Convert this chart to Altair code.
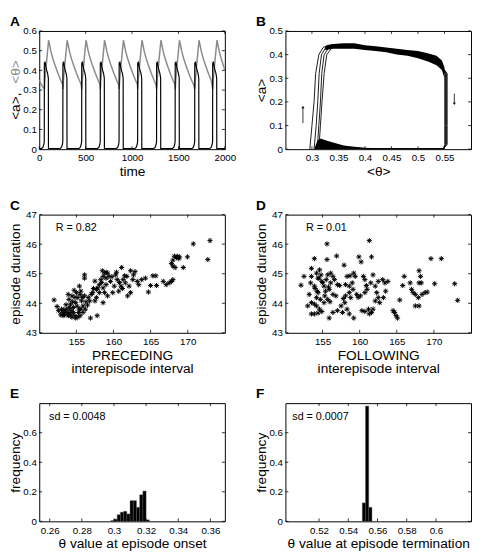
import altair as alt
import pandas as pd

FONT = "Liberation Sans"
W, H = 190, 121
TK = 3
ASTER = "M-1,0L1,0M0,-1L0,1M-0.7,-0.7L0.7,0.7M-0.7,0.7L0.7,-0.7"

# ---------------- Panel A data ----------------
A_xticks = [0, 500, 1000, 1500, 2000]
A_yticks = [0, 0.1, 0.2, 0.3, 0.4, 0.5, 0.6]
a_onsets = [55, 255, 458, 658, 861, 1061, 1265, 1465, 1676, 1869]
a_th_rise_dt = [0, 5, 15, 25, 35, 46]
a_th_rise_v = [0.305, 0.345, 0.40, 0.45, 0.50, 0.553]
a_th_decay_dt = [10, 25, 45, 70, 100, 130, 150]
a_th_decay_v = [0.53, 0.495, 0.46, 0.425, 0.385, 0.35, 0.33]
a_th_start_t = [0, 20, 40]
a_th_start_v = [0.35, 0.33, 0.315]
a_th_end_t, a_th_end_v = 2000, 0.40
a_act_dt = [-30, -15, -5, -1, 0, 3, 8, 15, 25, 35, 43, 44, 50]
a_act_v = [0.004, 0.01, 0.025, 0.04, 0.44, 0.43, 0.445, 0.42, 0.40, 0.385, 0.36, 0.0, 0.003]

# ---------------- Panel B data ----------------
B_xticks = [0.3, 0.35, 0.4, 0.45, 0.5, 0.55]
B_yticks = [0, 0.1, 0.2, 0.3, 0.4, 0.5]
b_up_th = [
    [0.296, 0.300, 0.304, 0.307, 0.313, 0.321, 0.330],
    [0.304, 0.308, 0.311, 0.3136, 0.318, 0.326, 0.335],
    [0.310, 0.313, 0.316, 0.3185, 0.323, 0.332, 0.340],
    [0.313, 0.316, 0.319, 0.323, 0.328, 0.338, 0.345],
]
b_up_a = [0.0, 0.1, 0.2, 0.32, 0.40, 0.43, 0.44]
b_drop_th = [0.5505, 0.552, 0.5535, 0.555]
b_tail_th = [0.36, 0.40, 0.45, 0.50, 0.53, 0.545, 0.0, 0.0, 0.0, 0.0, 0.548, 0.50, 0.40, 0.36, 0.34]
b_tail_a = [0.44, 0.43, 0.415, 0.395, 0.375, 0.35, 0.32, 0.25, 0.10, 0.02, 0.002, 0.001, 0.002, 0.006, 0.015]
b_band_th = [0.325, 0.34, 0.36, 0.38, 0.40, 0.42, 0.44, 0.46, 0.48, 0.50, 0.52, 0.535, 0.545, 0.55]
b_band_hi = [0.435, 0.445, 0.448, 0.448, 0.44, 0.435, 0.43, 0.425, 0.42, 0.415, 0.405, 0.395, 0.375, 0.345]
b_band_lo = [0.42, 0.425, 0.425, 0.425, 0.42, 0.415, 0.41, 0.40, 0.395, 0.385, 0.37, 0.355, 0.335, 0.30]
b_low_th = [0.305, 0.31, 0.315, 0.32, 0.33, 0.34, 0.35, 0.36, 0.38, 0.40, 0.42]
b_low_hi = [0.005, 0.035, 0.045, 0.042, 0.035, 0.028, 0.022, 0.016, 0.01, 0.006, 0.004]
b_arrow_th = [0.283, 0.5685]
b_arrow_from = [0.11, 0.235]
b_arrow_to = [0.172, 0.198]
b_head_a = [0.178, 0.192]
b_head_shape = ["triangle-up", "triangle-down"]

# ---------------- Panels C / D data ----------------
CD_xticks = [155, 160, 165, 170]
CD_yticks = [43, 44, 45, 46, 47]
c_x = [173.0, 170.75, 172.7, 169.96, 169.4, 168.2, 168.5, 168.8, 168.0, 167.8, 168.0, 168.3, 168.6, 168.9,
       167.8, 167.5, 168.0, 167.1, 166.7, 165.7, 165.3, 165.8, 165.0, 164.7, 164.3, 163.8, 163.2, 163.4,
       162.9, 162.3, 162.7, 161.1, 161.8, 161.5, 161.3, 161.6, 162.1, 162.3, 161.9, 161.0, 160.7, 160.5,
       160.3, 160.1, 159.9, 159.6, 159.2, 158.8, 158.6, 158.3, 159.0, 159.4, 159.0, 158.6, 158.1, 157.9,
       158.1, 157.7, 158.8, 159.2, 158.6, 157.7, 157.2, 157.5, 157.0, 156.1, 156.1, 156.6, 156.8, 157.8,
       156.9, 152.0, 152.4, 153.1, 153.4, 153.9, 154.0, 154.2, 153.7, 153.3, 152.9, 154.3, 154.6, 154.8,
       154.9, 155.2, 154.6, 154.9, 155.2, 155.5, 155.6, 155.4, 155.7, 155.9, 155.6, 155.3, 154.4, 154.2,
       153.9, 155.9, 156.2, 156.5, 155.0, 154.7, 153.9, 153.5, 153.2, 154.4, 155.5, 156.1, 152.6,
       153.6, 154.1, 154.5, 154.8, 155.1, 155.4, 153.0, 154.0, 155.8, 156.3, 157.3, 158.4, 159.8, 160.8,
       161.2, 162.6, 160.4, 159.0, 158.5, 157.5]
c_y = [46.12, 46.01, 45.48, 45.57, 45.21, 45.59, 45.55, 45.51, 45.46, 45.35, 45.26, 45.21, 45.59, 45.57,
       44.74, 44.69, 44.80, 44.63, 44.74, 44.93, 44.93, 44.60, 44.60, 44.38, 44.85, 44.80, 44.74, 44.63,
       45.07, 45.10, 44.96, 45.21, 44.91, 44.93, 44.80, 44.69, 44.58, 44.36, 44.25, 44.58, 44.41, 44.80,
       44.96, 44.58, 44.36, 44.74, 45.02, 45.02, 44.91, 44.80, 44.85, 44.91, 44.63, 44.52, 44.63, 44.52,
       44.36, 44.47, 44.36, 44.25, 44.02, 44.19, 44.36, 44.08, 44.30, 44.85, 44.96, 44.19, 44.08, 43.58,
       43.50, 44.11, 43.89, 43.69, 43.61, 44.30, 44.13, 43.97, 43.80, 43.78, 43.61, 43.75, 43.69, 43.58,
       43.50, 43.53, 43.86, 44.02, 44.19, 44.30, 44.41, 44.58, 44.08, 43.91, 43.80, 43.69, 44.25, 43.61,
       43.58, 43.69, 43.80, 43.94, 44.36, 44.44, 43.69, 43.69, 43.58, 43.53, 43.58, 44.25, 43.75,
       43.95, 43.85, 44.05, 44.20, 43.90, 43.80, 43.80, 43.60, 44.20, 44.05, 44.50, 44.70, 44.90, 44.70,
       44.50, 44.80, 45.05, 45.05, 45.10, 44.75]
d_x = [161.3, 155.6, 156.9, 153.9, 155.6, 159.9, 160.2, 161.6, 157.9, 169.6, 171.0,
       152.1, 152.5, 153.5, 153.5, 153.4, 153.9, 154.2, 154.4, 154.6, 154.8, 154.9, 155.2, 155.4, 154.4,
       154.2, 154.7, 155.3, 155.5, 155.7, 156.1, 156.4, 156.6, 156.1, 155.9, 156.4, 156.8, 157.0, 155.7,
       155.2, 153.0, 153.5, 153.9, 154.2, 154.6, 153.5, 153.9, 154.4, 154.9, 155.9, 156.4, 157.0, 157.5,
       157.8, 157.7, 158.3, 158.6, 159.2, 158.0, 158.3, 158.7, 158.1, 158.6, 159.0, 159.2, 159.4, 159.1,
       158.6, 158.1, 158.8, 159.6, 160.1, 160.7, 160.5, 160.7, 161.0, 160.3, 160.7, 161.2, 161.6, 161.8,
       161.3, 161.8, 161.5, 162.1, 162.3, 162.5, 163.1, 163.4, 163.8, 163.5, 163.2, 162.7, 162.1, 162.5,
       164.5, 164.7, 164.9, 165.1, 165.4, 165.8, 166.0, 166.8, 167.0, 167.2, 167.5, 167.5, 168.0, 168.0,
       168.2, 168.0, 168.3, 168.4, 168.8, 169.1, 170.1, 172.8, 173.2, 167.9,
       154.0, 155.0, 154.5, 155.8, 156.0, 153.2, 157.3, 159.8, 160.9, 154.3]
d_y = [46.12, 46.01, 45.60, 45.51, 45.48, 45.57, 45.40, 45.57, 45.29, 45.51, 45.51,
       44.61, 44.91, 45.18, 44.91, 44.69, 44.58, 45.02, 44.85, 45.13, 44.96, 44.74, 44.58, 44.41, 44.36,
       44.19, 44.13, 44.25, 44.80, 44.96, 45.02, 44.91, 44.80, 44.69, 44.47, 44.30, 44.25, 44.63, 44.13,
       44.02, 43.91, 44.02, 43.97, 43.91, 43.80, 43.64, 43.64, 43.67, 43.72, 43.50, 43.69, 43.75, 43.91,
       44.16, 43.69, 43.80, 43.64, 43.50, 44.02, 44.91, 44.93, 44.63, 44.58, 44.69, 45.02, 44.91, 44.47,
       44.36, 44.25, 44.19, 44.30, 44.25, 44.36, 44.91, 44.80, 44.47, 43.75, 43.72, 43.80, 43.69, 43.80,
       43.64, 44.96, 44.69, 44.58, 44.36, 44.74, 44.80, 44.69, 44.74, 44.41, 44.19, 44.02, 44.08, 44.19,
       43.75, 43.69, 43.58, 43.50, 44.11, 44.60, 44.91, 44.69, 44.47, 44.36, 44.30, 43.91, 43.91, 45.10,
       44.91, 44.69, 44.69, 44.30, 44.36, 44.38, 44.66, 44.66, 44.10, 44.19,
       44.50, 44.70, 44.85, 44.55, 44.05, 44.30, 44.60, 44.20, 44.60, 44.40]

# ---------------- Panels E / F data ----------------
EF_yticks = [0, 0.2, 0.4, 0.6]
E_xticks = [0.26, 0.28, 0.3, 0.32, 0.34, 0.36]
F_xticks = [0.52, 0.54, 0.56, 0.58, 0.6]
e_edges = [0.298, 0.300, 0.302, 0.304, 0.306, 0.308, 0.310, 0.312, 0.314, 0.316, 0.318, 0.320, 0.322]
e_freq = [0.005, 0.015, 0.045, 0.062, 0.068, 0.05, 0.14, 0.14, 0.095, 0.18, 0.205, 0.01]
f_edges = [0.5496, 0.5518, 0.5540, 0.5562]
f_freq = [0.125, 0.78, 0.095]

FMT = "~r"


def qs(dom):
    return alt.Scale(domain=dom, nice=False, zero=False)


def tick_layers(xs, ys, xa, ya, xt, yt):
    tx = pd.DataFrame({"v": xt})
    ty = pd.DataFrame({"v": yt})
    r = dict(color="black", strokeWidth=0.8)
    X = alt.X("v:Q", scale=xs, axis=xa)
    Y = alt.Y("v:Q", scale=ys, axis=ya)
    return [
        alt.Chart(tx).mark_rule(**r).encode(x=X, y=alt.value(H), y2=alt.value(H - TK)),
        alt.Chart(tx).mark_rule(**r).encode(x=X, y=alt.value(0), y2=alt.value(TK)),
        alt.Chart(ty).mark_rule(**r).encode(y=Y, x=alt.value(0), x2=alt.value(TK)),
        alt.Chart(ty).mark_rule(**r).encode(y=Y, x=alt.value(W), x2=alt.value(W - TK)),
    ]


def letter(s):
    return alt.Chart(pd.DataFrame({"s": [s]})).mark_text(
        align="left", baseline="alphabetic", fontSize=14, fontWeight="bold", font=FONT, color="black"
    ).encode(x=alt.value(-30), y=alt.value(-5), text="s:N")


def note(s, px):
    return alt.Chart(pd.DataFrame({"s": [s]})).mark_text(
        align="left", baseline="alphabetic", fontSize=11, font=FONT, color="black"
    ).encode(x=alt.value(px), y=alt.value(17), text="s:N")


# ---------------- Panel A ----------------
gt, gv = list(a_th_start_t), list(a_th_start_v)
for i, o in enumerate(a_onsets):
    nxt = a_onsets[i + 1] if i + 1 < len(a_onsets) else a_th_end_t
    for dt, v in zip(a_th_rise_dt, a_th_rise_v):
        gt.append(o + dt); gv.append(v)
    pk = o + a_th_rise_dt[-1]
    for dt, v in zip(a_th_decay_dt, a_th_decay_v):
        if pk + dt < nxt:
            gt.append(pk + dt); gv.append(v)
gt.append(a_th_end_t); gv.append(a_th_end_v)
bt, bv = [0], [0.003]
for o in a_onsets:
    for dt, v in zip(a_act_dt, a_act_v):
        if 0 < o + dt < 2000:
            bt.append(o + dt); bv.append(v)
bt.append(2000); bv.append(0.003)

xsA, ysA = qs([0, 2000]), qs([0, 0.6])
xaA = alt.Axis(values=A_xticks, title="time", format=FMT)
yaA = alt.Axis(values=A_yticks, title="", format=FMT)
dfA1 = pd.DataFrame({"t": gt, "v": gv, "i": range(len(gt))})
dfA2 = pd.DataFrame({"t": bt, "v": bv, "i": range(len(bt))})
A_th = alt.Chart(dfA1).mark_line(color="#8a8a8a", strokeWidth=1.5, clip=True).encode(
    x=alt.X("t:Q", scale=xsA, axis=xaA), y=alt.Y("v:Q", scale=ysA, axis=yaA), order="i:Q")
A_a = alt.Chart(dfA2).mark_line(color="black", strokeWidth=1.2, clip=True).encode(
    x=alt.X("t:Q", scale=xsA, axis=xaA), y=alt.Y("v:Q", scale=ysA, axis=yaA), order="i:Q")
A_t1 = alt.Chart(pd.DataFrame({"s": ["<a>, "]})).mark_text(
    angle=270, align="left", baseline="bottom", fontSize=14, font=FONT, color="black"
).encode(x=alt.value(-17), y=alt.value(91), text="s:N")
A_t2 = alt.Chart(pd.DataFrame({"s": ["<θ>"]})).mark_text(
    angle=270, align="right", baseline="bottom", fontSize=14, font=FONT, color="#8a8a8a"
).encode(x=alt.value(-17), y=alt.value(30), text="s:N")
panelA = alt.layer(A_th, A_a, A_t1, A_t2, letter("A"),
                   *tick_layers(xsA, ysA, xaA, yaA, A_xticks, A_yticks)).properties(width=W, height=H)

# ---------------- Panel B ----------------
xsB, ysB = qs([0.25, 0.6]), qs([0, 0.5])
xaB = alt.Axis(values=B_xticks, title="<θ>", format=FMT)
yaB = alt.Axis(values=B_yticks, title="<a>", titleX=-17, format=FMT)
rows = []
for k, up in enumerate(b_up_th):
    pts = list(zip(up, b_up_a))
    for th, a in zip(b_tail_th, b_tail_a):
        pts.append((b_drop_th[k] if th == 0.0 else th, a))
    for j, (th, a) in enumerate(pts):
        rows.append({"th": th, "a": a, "loop": k, "i": j})
dfB = pd.DataFrame(rows)
B_lines = alt.Chart(dfB).mark_line(color="black", strokeWidth=0.9, clip=True).encode(
    x=alt.X("th:Q", scale=xsB, axis=xaB), y=alt.Y("a:Q", scale=ysB, axis=yaB),
    detail="loop:N", order="i:Q")
B_band = alt.Chart(pd.DataFrame({"th": b_band_th, "hi": b_band_hi, "lo": b_band_lo})).mark_area(
    color="black", clip=True).encode(
    x=alt.X("th:Q", scale=xsB, axis=xaB), y=alt.Y("hi:Q", scale=ysB, axis=yaB), y2="lo:Q")
B_low = alt.Chart(pd.DataFrame({"th": b_low_th, "hi": b_low_hi, "lo": [0.0] * len(b_low_th)})).mark_area(
    color="black", clip=True).encode(
    x=alt.X("th:Q", scale=xsB, axis=xaB), y=alt.Y("hi:Q", scale=ysB, axis=yaB), y2="lo:Q")
dfArr = pd.DataFrame({"th": b_arrow_th, "y1": b_arrow_from, "y2": b_arrow_to,
                      "hy": b_head_a, "shape": b_head_shape})
B_arr = alt.Chart(dfArr).mark_rule(color="black", strokeWidth=0.8).encode(
    x=alt.X("th:Q", scale=xsB, axis=xaB), y=alt.Y("y1:Q", scale=ysB, axis=yaB), y2="y2:Q")
B_head = alt.Chart(dfArr).mark_point(filled=True, color="black", size=10, opacity=1).encode(
    x=alt.X("th:Q", scale=xsB, axis=xaB), y=alt.Y("hy:Q", scale=ysB, axis=yaB),
    shape=alt.Shape("shape:N", scale=None))
panelB = alt.layer(B_band, B_low, B_lines, B_arr, B_head, letter("B"),
                   *tick_layers(xsB, ysB, xaB, yaB, B_xticks, B_yticks)).properties(width=W, height=H)


# ---------------- Panels C / D ----------------
def scatter_panel(xv, yv, xtitle, lab, rtext, rx):
    xs, ys = qs([150, 175]), qs([43, 47])
    xa = alt.Axis(values=CD_xticks, title=xtitle, format=FMT, titleLineHeight=14)
    ya = alt.Axis(values=CD_yticks, title="episode duration", titleX=-17, format=FMT)
    df = pd.DataFrame({"x": xv, "y": yv})
    pts = alt.Chart(df).mark_point(shape=ASTER, size=28, filled=False, color="black",
                                   strokeWidth=1, opacity=1).encode(
        x=alt.X("x:Q", scale=xs, axis=xa), y=alt.Y("y:Q", scale=ys, axis=ya))
    return alt.layer(pts, note(rtext, rx), letter(lab),
                     *tick_layers(xs, ys, xa, ya, CD_xticks, CD_yticks)).properties(width=W, height=H)


panelC = scatter_panel(c_x, c_y, ["PRECEDING", "interepisode interval"], "C", "R = 0.82", 17)
panelD = scatter_panel(d_x, d_y, ["FOLLOWING", "interepisode interval"], "D", "R = 0.01", 21)


# ---------------- Panels E / F ----------------
def hist_panel(edges, freq, dom, xt, xtitle, lab, sdtext, sx):
    xs, ys = qs(dom), qs([0, 0.8])
    xa = alt.Axis(values=xt, title=xtitle, format=FMT)
    ya = alt.Axis(values=EF_yticks, title="frequency", titleX=-17, format=FMT)
    df = pd.DataFrame({"lo": edges[:-1], "hi": edges[1:], "f": freq, "z": [0.0] * len(freq)})
    bars = alt.Chart(df).mark_rect(color="black", stroke="#555555", strokeWidth=0.4).encode(
        x=alt.X("lo:Q", scale=xs, axis=xa), x2="hi:Q",
        y=alt.Y("f:Q", scale=ys, axis=ya), y2="z:Q")
    return alt.layer(bars, note(sdtext, sx), letter(lab),
                     *tick_layers(xs, ys, xa, ya, xt, EF_yticks)).properties(width=W, height=H)


panelE = hist_panel(e_edges, e_freq, [0.2535, 0.369], E_xticks, "θ value at episode onset",
                    "E", "sd = 0.0048", 10)
panelF = hist_panel(f_edges, f_freq, [0.497, 0.624], F_xticks, "θ value at episode termination",
                    "F", "sd = 0.0007", 7)

r1 = alt.hconcat(panelA, panelB, spacing=18)
r2 = alt.hconcat(panelC, panelD, spacing=29)
r3 = alt.hconcat(panelE, panelF, spacing=29)

chart = alt.vconcat(alt.vconcat(r1, r2, spacing=19), r3, spacing=10).properties(
    padding=0
).configure_view(
    stroke="black", strokeWidth=1
).configure_axis(
    domain=False, ticks=False, tickSize=0, grid=False, labelFont=FONT, labelFontSize=10,
    labelFlush=False, labelOverlap=False, labelColor="black", titleFont=FONT, titleFontSize=14,
    titleFontWeight="normal", titleColor="black", titlePadding=2
).configure_axisX(labelPadding=4).configure_axisY(labelPadding=3)

chart.save("out.html", embed_options={"renderer": "svg", "actions": False})
